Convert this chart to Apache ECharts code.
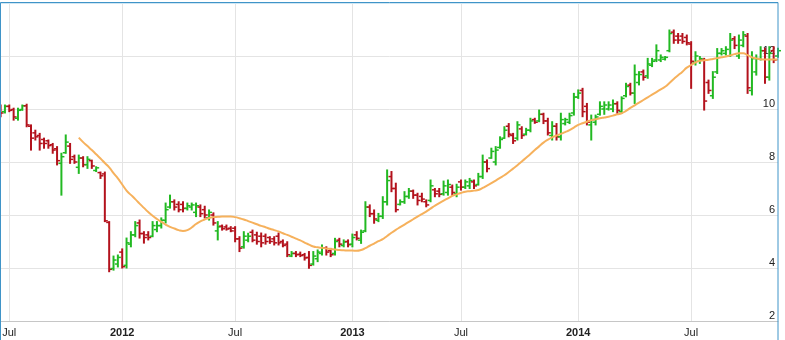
<!DOCTYPE html>
<html>
<head>
<meta charset="utf-8">
<script src="https://cdn.jsdelivr.net/npm/echarts@6/dist/echarts.min.js"></script>
<style>
html,body{margin:0;padding:0;background:#fff;}
#chart{width:785px;height:340px;}
</style>
</head>
<body>
<div id="chart"></div>
<script>
// Weekly bars starting Monday 2011-06-20, one row per week: [open, high, low, close]
const startDate = '2011-06-20';
const ohlc = [
[10.05,10.15,9.71,9.85],[9.90,10.15,9.85,10.10],[10.10,10.15,9.90,9.95],[9.98,10.03,9.58,9.70],
[9.65,10.03,9.58,9.95],[9.98,10.15,9.95,10.12],[10.12,10.18,9.33,9.40],[9.35,9.40,8.45,8.90],
[9.10,9.20,8.83,8.95],[9.00,9.08,8.45,8.70],[8.85,8.90,8.52,8.70],[8.80,8.83,8.52,8.62],
[8.65,8.70,8.33,8.45],[8.50,8.58,7.89,8.05],[7.95,8.33,6.75,8.20],[8.35,9.02,8.33,8.75],
[8.60,8.70,7.95,8.10],[8.20,8.26,7.95,8.00],[7.80,8.26,7.57,8.15],[8.15,8.20,7.82,7.90],
[7.90,8.20,7.76,8.10],[8.05,8.07,7.76,7.85],[7.68,7.82,7.64,7.78],[7.60,7.62,7.38,7.48],
[7.55,7.62,5.75,5.78],[5.72,5.75,3.86,3.95],[3.98,4.45,3.92,4.30],[4.15,4.49,4.04,4.40],
[4.60,4.72,4.00,4.05],[4.10,5.13,4.00,4.95],[4.90,5.37,4.80,5.25],[5.25,5.75,5.18,5.60],
[5.70,5.81,5.13,5.30],[5.30,5.37,4.94,5.15],[5.25,5.37,5.06,5.15],[5.20,5.75,5.18,5.60],
[5.45,5.75,5.37,5.60],[5.60,5.89,5.51,5.80],[5.80,6.45,5.70,6.20],[6.30,6.75,6.26,6.50],
[6.50,6.57,6.19,6.30],[6.40,6.50,6.12,6.20],[6.40,6.50,6.12,6.25],[6.25,6.45,6.19,6.35],
[6.30,6.45,6.19,6.38],[6.10,6.45,5.94,6.35],[6.30,6.38,5.94,6.05],[6.20,6.33,5.89,6.00],
[5.90,6.19,5.81,6.10],[6.00,6.08,5.62,5.70],[5.40,5.75,5.06,5.55],[5.58,5.62,5.43,5.48],
[5.55,5.62,5.43,5.47],[5.50,5.56,5.37,5.40],[5.50,5.56,4.99,5.10],[5.10,5.18,4.62,4.75],
[4.80,5.37,4.75,5.20],[5.05,5.31,4.99,5.20],[5.35,5.43,4.99,5.05],[5.25,5.35,4.90,5.00],
[5.20,5.32,4.80,4.95],[5.20,5.28,4.90,5.00],[5.15,5.18,4.93,5.00],[5.10,5.18,4.87,4.95],
[5.20,5.32,4.87,4.95],[5.00,5.06,4.80,4.85],[4.90,4.99,4.43,4.50],[4.45,4.62,4.43,4.55],
[4.55,4.62,4.43,4.50],[4.52,4.60,4.43,4.47],[4.50,4.55,4.30,4.38],[4.40,4.62,3.99,4.10],
[4.15,4.62,4.11,4.45],[4.35,4.68,4.24,4.60],[4.55,4.87,4.49,4.75],[4.75,4.80,4.49,4.60],
[4.65,4.74,4.43,4.50],[4.55,5.12,4.49,5.00],[5.05,5.12,4.80,4.90],[4.85,5.06,4.80,4.98],
[5.00,5.06,4.80,4.88],[4.90,5.28,4.80,5.15],[5.25,5.37,5.06,5.12],[5.05,5.43,4.93,5.35],
[5.40,6.50,5.37,6.30],[6.30,6.38,5.94,6.05],[6.05,6.19,5.69,5.85],[5.80,6.06,5.75,5.95],
[5.95,6.69,5.87,6.50],[6.50,7.70,6.38,7.30],[7.45,7.64,6.88,7.00],[7.00,7.20,6.12,6.20],
[6.40,6.57,6.38,6.50],[6.50,6.88,6.44,6.70],[6.70,7.00,6.63,6.90],[6.90,6.94,6.63,6.75],
[6.75,6.82,6.38,6.55],[6.70,6.82,6.50,6.60],[6.50,6.57,6.31,6.38],[6.55,7.32,6.50,7.10],
[6.95,7.00,6.69,6.80],[6.90,7.00,6.69,6.78],[6.80,7.28,6.75,7.10],[6.85,7.32,6.75,7.15],
[7.05,7.13,6.75,6.85],[6.80,7.16,6.69,7.05],[7.25,7.32,6.94,7.05],[7.05,7.32,7.00,7.25],
[7.10,7.38,7.00,7.30],[7.25,7.32,7.00,7.10],[7.15,7.57,7.13,7.45],[7.45,8.26,7.38,8.00],
[8.00,8.08,7.63,7.75],[8.15,8.52,8.14,8.40],[8.00,8.58,7.89,8.45],[8.55,8.95,8.52,8.85],
[8.90,9.33,8.89,9.20],[9.35,9.45,8.95,9.05],[9.00,9.08,8.70,8.80],[8.90,9.52,8.83,9.40],
[9.25,9.33,8.89,9.00],[9.05,9.27,9.02,9.20],[9.20,9.65,9.14,9.55],[9.60,9.65,9.46,9.50],
[9.55,9.96,9.52,9.80],[9.80,9.84,9.45,9.55],[9.55,9.65,9.02,9.10],[9.00,9.52,8.83,9.35],
[9.35,9.45,8.83,8.95],[8.95,9.84,8.83,9.60],[9.45,9.65,9.40,9.60],[9.50,9.84,9.45,9.75],
[9.85,10.59,9.77,10.45],[10.45,10.72,10.40,10.60],[10.70,10.78,9.71,9.90],[10.10,10.21,9.40,9.50],
[9.40,9.77,8.83,9.60],[9.50,9.77,9.40,9.70],[9.80,10.27,9.77,10.10],[10.00,10.27,9.80,10.15],
[10.00,10.27,9.96,10.15],[10.00,10.34,9.90,10.20],[10.20,10.27,9.84,9.95],[9.90,10.46,9.84,10.40],
[10.50,10.97,10.46,10.85],[10.90,10.97,10.53,10.60],[10.60,11.66,10.21,11.30],[11.00,11.41,10.91,11.30],
[11.40,11.47,11.09,11.20],[11.25,11.91,11.16,11.70],[11.65,11.91,11.60,11.80],[11.85,12.42,11.79,12.20],
[11.85,12.04,11.79,11.95],[11.88,11.98,11.85,11.95],[12.20,12.98,12.16,12.85],[12.90,12.98,12.48,12.60],
[12.75,12.85,12.48,12.60],[12.75,12.85,12.48,12.55],[12.70,12.79,12.42,12.50],[12.45,12.54,10.78,11.80],
[11.75,12.16,11.66,12.00],[11.80,11.98,11.72,11.90],[11.85,11.91,9.96,10.30],[11.00,11.09,10.59,10.70],
[10.50,11.41,10.40,11.20],[11.40,12.28,11.34,12.10],[12.10,12.28,12.04,12.20],[12.10,12.35,12.04,12.25],
[12.00,12.85,11.98,12.60],[12.65,12.73,12.28,12.40],[12.00,12.79,11.91,12.60],[12.40,12.92,12.35,12.80],
[12.75,12.85,10.59,10.80],[10.70,12.16,10.53,11.90],[11.40,12.04,11.28,11.90],[11.90,12.35,11.85,12.20],
[12.20,12.29,10.97,11.20],[11.20,12.35,11.09,12.10],[12.20,12.35,11.75,11.85],[12.00,12.29,11.95,12.20]
];
// Moving average line (null where it is not drawn)
const maValues = [
null,null,null,null,null,null,null,null,null,null,null,null,null,null,null,null,null,null,
8.92,8.75,8.60,8.45,8.29,8.13,7.96,7.80,7.58,7.38,7.15,6.92,6.76,6.60,6.43,6.27,6.11,5.97,5.85,5.74,
5.64,5.55,5.49,5.43,5.40,5.43,5.53,5.66,5.76,5.83,5.89,5.92,5.93,5.94,5.94,5.94,5.92,5.88,5.83,5.77,
5.71,5.65,5.59,5.54,5.48,5.43,5.38,5.31,5.25,5.18,5.11,5.04,4.96,4.88,4.81,4.78,4.76,4.74,4.72,4.70,
4.68,4.67,4.66,4.66,4.65,4.68,4.75,4.84,4.92,5.01,5.09,5.21,5.33,5.44,5.54,5.64,5.74,5.84,5.94,6.03,
6.13,6.24,6.35,6.45,6.54,6.63,6.72,6.78,6.83,6.88,6.90,6.92,6.94,7.02,7.11,7.20,7.30,7.40,7.50,7.62,
7.75,7.88,8.02,8.16,8.30,8.45,8.59,8.73,8.84,8.93,9.00,9.06,9.13,9.20,9.30,9.40,9.46,9.52,9.58,9.61,
9.65,9.68,9.71,9.75,9.80,9.84,9.93,10.04,10.14,10.24,10.34,10.44,10.54,10.64,10.74,10.84,10.98,11.13,
11.27,11.41,11.56,11.66,11.76,11.82,11.84,11.86,11.89,11.92,11.95,11.98,12.02,12.07,12.10,12.10,12.03,
11.95,11.91,11.88,11.87,11.87,11.87,11.87
];
const yMin = 2, yMax = 14, yStep = 2;

const upColor = '#22b922';
const downColor = '#b3121c';
const maColor = '#f6b15c';

const t0 = Date.parse(startDate + 'T00:00:00Z');
const categories = ohlc.map((_, i) => new Date(t0 + i * 7 * 86400000).toISOString().slice(0, 10));
const barData = ohlc.map((r, i) => [i, r[0], r[1], r[2], r[3]]);

function isHalfYearStart(idx) {
  const s = categories[idx];
  if (!s) return false;
  const m = s.slice(5, 7), d = +s.slice(8, 10);
  return (m === '01' || m === '07') && d <= 7;
}

const chart = echarts.init(document.getElementById('chart'), null, {renderer: 'canvas'});
chart.setOption({
  animation: false,
  backgroundColor: '#ffffff',
  grid: {left: 0.6, right: 7, top: 3, bottom: 19, containLabel: false, outerBoundsMode: 'none'},
  xAxis: {
    type: 'category',
    data: categories,
    boundaryGap: false,
    axisLine: {show: true, lineStyle: {color: '#c6c6c6', width: 1}},
    axisTick: {show: false},
    splitLine: {show: true, interval: (i) => isHalfYearStart(i), lineStyle: {color: '#e4e4e4', width: 1}},
    axisLabel: {
      interval: (i) => isHalfYearStart(i),
      margin: 6,
      fontFamily: 'Liberation Sans, Arial, sans-serif',
      fontSize: 11,
      color: '#222',
      formatter: (v) => v.slice(5, 7) === '01' ? '{y|' + v.slice(0, 4) + '}' : 'Jul',
      rich: {y: {fontWeight: 'bold', fontSize: 11, color: '#222', fontFamily: 'Liberation Sans, Arial, sans-serif'}}
    }
  },
  yAxis: {
    type: 'value',
    position: 'right',
    min: yMin, max: yMax, interval: yStep,
    axisLine: {show: false},
    axisTick: {show: false},
    splitLine: {show: true, lineStyle: {color: '#e4e4e4', width: 1}},
    axisLabel: {
      inside: true,
      margin: 3,
      showMaxLabel: false,
      verticalAlign: 'bottom',
      align: 'right',
      fontFamily: 'Liberation Sans, Arial, sans-serif',
      fontSize: 11,
      color: '#222'
    }
  },
  series: [
    {
      type: 'custom',
      data: barData,
      encode: {x: 0, y: [1, 2, 3, 4]},
      z: 2,
      renderItem: function (params, api) {
        const i = api.value(0);
        const o = api.value(1), h = api.value(2), l = api.value(3), c = api.value(4);
        const pH = api.coord([i, h]), pL = api.coord([i, l]);
        const pO = api.coord([i, o]), pC = api.coord([i, c]);
        const col = c >= o ? upColor : downColor;
        return {
          type: 'group',
          children: [
            {type: 'line', shape: {x1: pH[0], y1: pH[1] - 0.5, x2: pL[0], y2: pL[1] + 0.5}, style: {stroke: col, lineWidth: 2}},
            {type: 'line', shape: {x1: pO[0] - 3, y1: pO[1], x2: pO[0], y2: pO[1]}, style: {stroke: col, lineWidth: 1.5}},
            {type: 'line', shape: {x1: pC[0], y1: pC[1], x2: pC[0] + 3, y2: pC[1]}, style: {stroke: col, lineWidth: 1.5}}
          ]
        };
      }
    },
    {
      type: 'line',
      data: maValues,
      showSymbol: false,
      smooth: true,
      z: 3,
      lineStyle: {color: maColor, width: 2},
      itemStyle: {color: maColor}
    }
  ],
  graphic: [
    {type: 'rect', shape: {x: 0.5, y: 2.5, width: 777.5, height: 400}, style: {fill: null, stroke: '#3f94c8', lineWidth: 1}, silent: true, z: 100},
    {type: 'line', shape: {x1: 1.5, y1: 3.5, x2: 777, y2: 3.5}, style: {stroke: '#cfe6f3', lineWidth: 1}, silent: true, z: 100}
  ]
});
</script>
</body>
</html>
